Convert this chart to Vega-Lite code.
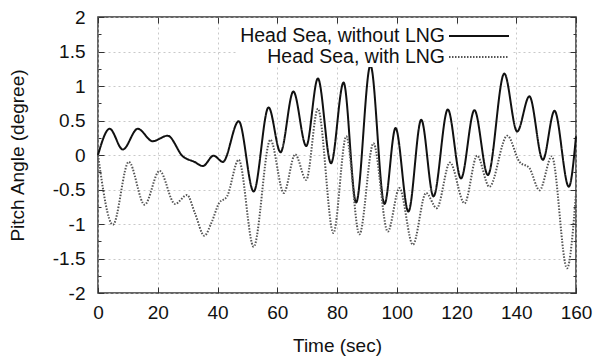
{
  "$schema": "https://vega.github.io/schema/vega-lite/v6.json",
  "width": 478,
  "height": 276,
  "autosize": {"type": "none"},
  "padding": {"left": 98, "top": 17, "right": 22, "bottom": 66},
  "background": "white",
  "data": {"values": [
    {"series": "Head Sea, without LNG", "t": 0, "v": 0},
    {"series": "Head Sea, without LNG", "t": 3.9, "v": 0.38},
    {"series": "Head Sea, without LNG", "t": 8.3, "v": 0.08},
    {"series": "Head Sea, without LNG", "t": 13.3, "v": 0.38},
    {"series": "Head Sea, without LNG", "t": 18.3, "v": 0.2},
    {"series": "Head Sea, without LNG", "t": 23.3, "v": 0.28},
    {"series": "Head Sea, without LNG", "t": 28.4, "v": -0.02},
    {"series": "Head Sea, without LNG", "t": 32.3, "v": -0.1},
    {"series": "Head Sea, without LNG", "t": 35.1, "v": -0.16},
    {"series": "Head Sea, without LNG", "t": 38.7, "v": -0.01},
    {"series": "Head Sea, without LNG", "t": 41.8, "v": -0.1},
    {"series": "Head Sea, without LNG", "t": 47.1, "v": 0.49},
    {"series": "Head Sea, without LNG", "t": 52.1, "v": -0.53},
    {"series": "Head Sea, without LNG", "t": 57.1, "v": 0.69},
    {"series": "Head Sea, without LNG", "t": 61.1, "v": 0.04},
    {"series": "Head Sea, without LNG", "t": 65.4, "v": 0.92},
    {"series": "Head Sea, without LNG", "t": 69.7, "v": 0.13},
    {"series": "Head Sea, without LNG", "t": 73.6, "v": 1.11},
    {"series": "Head Sea, without LNG", "t": 78.0, "v": -0.12},
    {"series": "Head Sea, without LNG", "t": 82.2, "v": 1.05},
    {"series": "Head Sea, without LNG", "t": 86.4, "v": -0.69},
    {"series": "Head Sea, without LNG", "t": 91.2, "v": 1.3},
    {"series": "Head Sea, without LNG", "t": 95.9, "v": -0.71},
    {"series": "Head Sea, without LNG", "t": 99.6, "v": 0.39},
    {"series": "Head Sea, without LNG", "t": 103.9, "v": -0.82},
    {"series": "Head Sea, without LNG", "t": 108.2, "v": 0.51},
    {"series": "Head Sea, without LNG", "t": 112.3, "v": -0.6},
    {"series": "Head Sea, without LNG", "t": 117.1, "v": 0.66},
    {"series": "Head Sea, without LNG", "t": 121.5, "v": -0.34},
    {"series": "Head Sea, without LNG", "t": 126.0, "v": 0.65},
    {"series": "Head Sea, without LNG", "t": 130.5, "v": -0.29},
    {"series": "Head Sea, without LNG", "t": 136.0, "v": 1.18},
    {"series": "Head Sea, without LNG", "t": 140.3, "v": 0.34},
    {"series": "Head Sea, without LNG", "t": 144.4, "v": 0.85},
    {"series": "Head Sea, without LNG", "t": 148.9, "v": -0.07},
    {"series": "Head Sea, without LNG", "t": 152.8, "v": 0.64},
    {"series": "Head Sea, without LNG", "t": 157.6, "v": -0.46},
    {"series": "Head Sea, without LNG", "t": 160, "v": 0.27},
    {"series": "Head Sea, with LNG", "t": 0, "v": 0},
    {"series": "Head Sea, with LNG", "t": 5.0, "v": -1.01},
    {"series": "Head Sea, with LNG", "t": 10.3, "v": -0.1},
    {"series": "Head Sea, with LNG", "t": 15.6, "v": -0.72},
    {"series": "Head Sea, with LNG", "t": 20.6, "v": -0.23},
    {"series": "Head Sea, with LNG", "t": 25.8, "v": -0.71},
    {"series": "Head Sea, with LNG", "t": 29.8, "v": -0.58},
    {"series": "Head Sea, with LNG", "t": 32.5, "v": -0.85},
    {"series": "Head Sea, with LNG", "t": 35.6, "v": -1.17},
    {"series": "Head Sea, with LNG", "t": 38.0, "v": -0.98},
    {"series": "Head Sea, with LNG", "t": 40.5, "v": -0.7},
    {"series": "Head Sea, with LNG", "t": 43.2, "v": -0.6},
    {"series": "Head Sea, with LNG", "t": 47.1, "v": -0.07},
    {"series": "Head Sea, with LNG", "t": 52.1, "v": -1.33},
    {"series": "Head Sea, with LNG", "t": 57.7, "v": 0.22},
    {"series": "Head Sea, with LNG", "t": 62.2, "v": -0.55},
    {"series": "Head Sea, with LNG", "t": 66.0, "v": 0.01},
    {"series": "Head Sea, with LNG", "t": 69.7, "v": -0.36},
    {"series": "Head Sea, with LNG", "t": 73.6, "v": 0.67},
    {"series": "Head Sea, with LNG", "t": 78.8, "v": -1.13},
    {"series": "Head Sea, with LNG", "t": 83.1, "v": 0.27},
    {"series": "Head Sea, with LNG", "t": 87.5, "v": -1.15},
    {"series": "Head Sea, with LNG", "t": 92.2, "v": 0.17},
    {"series": "Head Sea, with LNG", "t": 97.0, "v": -1.11},
    {"series": "Head Sea, with LNG", "t": 100.9, "v": -0.48},
    {"series": "Head Sea, with LNG", "t": 105.4, "v": -1.3},
    {"series": "Head Sea, with LNG", "t": 109.8, "v": -0.55},
    {"series": "Head Sea, with LNG", "t": 113.4, "v": -0.77},
    {"series": "Head Sea, with LNG", "t": 117.8, "v": -0.11},
    {"series": "Head Sea, with LNG", "t": 122.7, "v": -0.7},
    {"series": "Head Sea, with LNG", "t": 126.9, "v": -0.01},
    {"series": "Head Sea, with LNG", "t": 131.0, "v": -0.46},
    {"series": "Head Sea, with LNG", "t": 137.0, "v": 0.28},
    {"series": "Head Sea, with LNG", "t": 141.1, "v": -0.1},
    {"series": "Head Sea, with LNG", "t": 144.4, "v": -0.19},
    {"series": "Head Sea, with LNG", "t": 147.8, "v": -0.51},
    {"series": "Head Sea, with LNG", "t": 151.9, "v": -0.02},
    {"series": "Head Sea, with LNG", "t": 157.0, "v": -1.64},
    {"series": "Head Sea, with LNG", "t": 160, "v": -0.56}
  ]},
  "resolve": {"axis": {"x": "independent", "y": "independent"}},
  "layer": [
    {
      "mark": {"type": "line", "interpolate": "monotone", "strokeWidth": 2},
      "encoding": {
        "x": {"field": "t", "type": "quantitative", "scale": {"domain": [0, 160], "nice": false},
          "axis": {"orient": "bottom", "title": "Time (sec)", "values": [0, 20, 40, 60, 80, 100, 120, 140, 160], "tickSize": -6, "labelFontSize": 19, "labelPadding": 16, "titleFontSize": 19, "titlePadding": 14, "grid": true, "labelFlush": false}},
        "y": {"field": "v", "type": "quantitative", "scale": {"domain": [-2, 2], "nice": false},
          "axis": {"orient": "left", "title": "Pitch Angle (degree)", "values": [-2, -1.75, -1.5, -1.25, -1, -0.75, -0.5, -0.25, 0, 0.25, 0.5, 0.75, 1, 1.25, 1.5, 1.75, 2],
            "labelExpr": "abs(datum.value % 0.5) < 0.001 ? '' + datum.value : ''",
            "tickSize": {"condition": {"test": "abs(datum.value % 0.5) < 0.001", "value": -6}, "value": -3},
            "gridOpacity": {"condition": {"test": "abs(datum.value % 0.5) < 0.001", "value": 1}, "value": 0},
            "labelFontSize": 19, "labelPadding": 19, "titleFontSize": 19, "titlePadding": 25, "grid": true, "labelFlush": false}},
        "color": {"field": "series", "type": "nominal", "scale": {"domain": ["Head Sea, without LNG", "Head Sea, with LNG"], "range": ["#111111", "#555555"]}},
        "strokeDash": {"field": "series", "type": "nominal", "scale": {"domain": ["Head Sea, without LNG", "Head Sea, with LNG"], "range": [[1, 0], [1.5, 1.5]]}}
      }
    },
    {
      "mark": {"type": "point", "opacity": 0},
      "encoding": {
        "x": {"field": "t", "type": "quantitative", "scale": {"domain": [0, 160], "nice": false},
          "axis": {"orient": "top", "title": null, "labels": false, "grid": false, "values": [0, 20, 40, 60, 80, 100, 120, 140, 160], "tickSize": -6}},
        "y": {"field": "v", "type": "quantitative", "scale": {"domain": [-2, 2], "nice": false},
          "axis": {"orient": "right", "title": null, "labels": false, "grid": false, "values": [-2, -1.75, -1.5, -1.25, -1, -0.75, -0.5, -0.25, 0, 0.25, 0.5, 0.75, 1, 1.25, 1.5, 1.75, 2],
            "tickSize": {"condition": {"test": "abs(datum.value % 0.5) < 0.001", "value": -6}, "value": -3}}}
      }
    }
  ],
  "config": {
    "font": "Liberation Sans",
    "view": {"stroke": "#333", "strokeWidth": 1.5},
    "axis": {"domain": false, "labelFont": "Liberation Sans", "titleFont": "Liberation Sans", "labelColor": "#111", "titleColor": "#111", "titleFontWeight": "normal", "tickColor": "#333", "gridColor": "#bbb", "gridDash": [2, 3], "gridWidth": 0.8},
    "legend": {"orient": "none", "legendX": 138, "legendY": 8, "title": null, "padding": 0, "rowPadding": 0, "symbolType": "M-3,0H3", "symbolSize": 400, "symbolStrokeWidth": 2, "symbolOffset": 232, "labelAlign": "right", "labelBaseline": "middle", "labelOffset": -45, "labelFontSize": 19.5, "labelFont": "Liberation Sans", "labelColor": "#111", "labelLimit": 500, "fillColor": "white"}
  }
}
